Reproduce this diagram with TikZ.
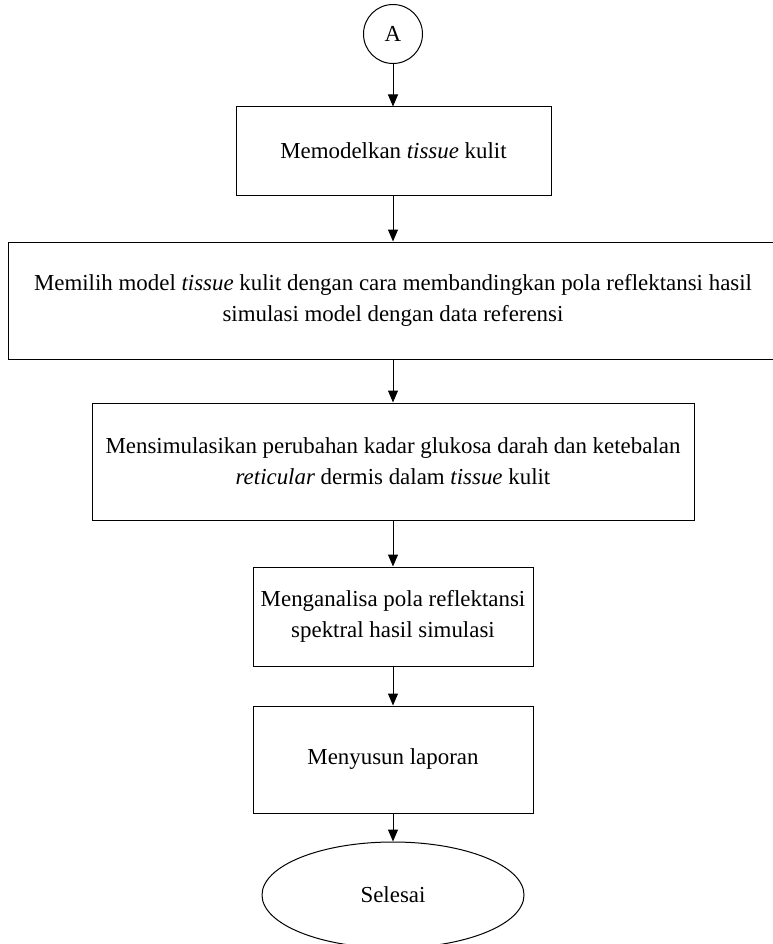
\documentclass[tikz,border=0pt]{standalone}
\usepackage{fontspec}
\setmainfont{Liberation Serif}
\usetikzlibrary{arrows.meta,shapes.geometric}
\begin{document}
\begin{tikzpicture}[x=1pt,y=-1pt,
  every node/.style={font=\fontsize{22.9}{31}\selectfont, align=center, inner sep=0pt},
  procbox/.style={draw, line width=1pt, rectangle},
  conn/.style={draw, line width=1pt, -{Triangle[width=10pt,length=12pt]}}]
\useasboundingbox (0,0) rectangle (772,944);
\node[draw, circle, line width=1pt, minimum size=59pt] (a) at (393,34) {A};
\node[procbox, minimum width=315pt, minimum height=88pt] (b1) at (393.5,151) {Memodelkan \textit{tissue} kulit};
\node[procbox, minimum width=770pt, minimum height=117pt] (b2) at (393,300.5) {Memilih model \textit{tissue} kulit dengan cara membandingkan pola reflektansi hasil\\ simulasi model dengan data referensi};
\node[procbox, minimum width=602pt, minimum height=117pt] (b3) at (393,461.5) {Mensimulasikan perubahan kadar glukosa darah dan ketebalan\\ \textit{reticular} dermis dalam \textit{tissue} kulit};
\node[procbox, minimum width=280pt, minimum height=99pt] (b4) at (393,616.5) {Menganalisa pola reflektansi\\ spektral hasil simulasi};
\node[procbox, minimum width=280pt, minimum height=107pt] (b5) at (393,759.5) {Menyusun laporan};
\node[draw, ellipse, line width=1pt, minimum width=262pt, minimum height=106pt] (e) at (393,895) {Selesai};
\draw[conn] (a) -- (a |- b1.north);
\draw[conn] (b1.south -| a) -- (b2.north -| a);
\draw[conn] (b2.south -| a) -- (b3.north -| a);
\draw[conn] (b3.south -| a) -- (b4.north -| a);
\draw[conn] (b4.south -| a) -- (b5.north -| a);
\draw[conn] (b5.south -| a) -- (e.north);
\end{tikzpicture}
\end{document}
